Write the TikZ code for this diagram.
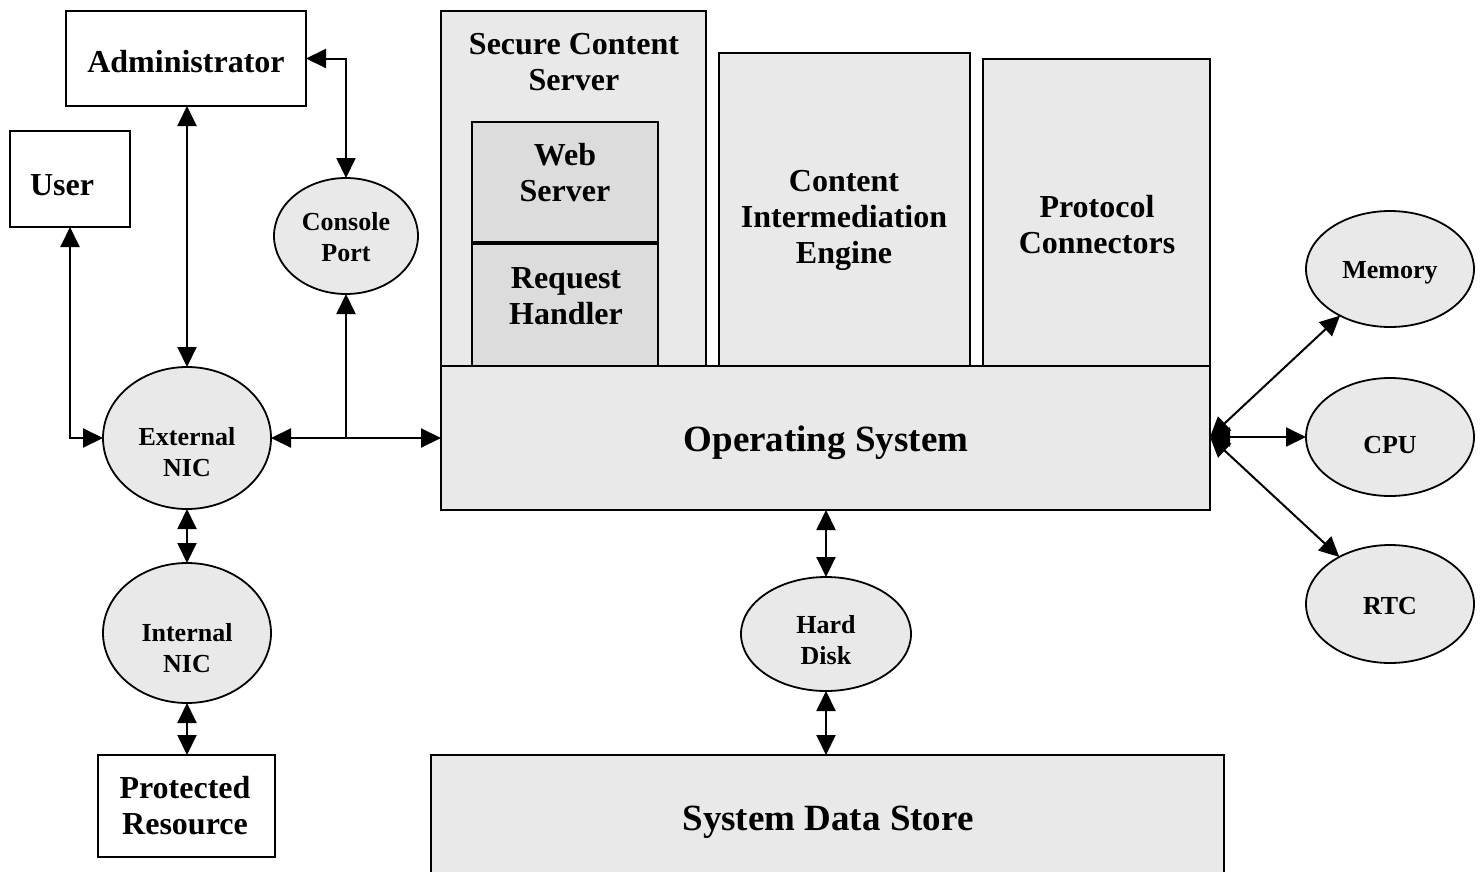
\documentclass[tikz,border=0pt]{standalone}
\usepackage{fontspec}
\setmainfont{Liberation Serif}
\usetikzlibrary{arrows.meta,shapes.geometric}
\definecolor{panel}{HTML}{E9E9E9}
\definecolor{subpanel}{HTML}{DCDCDC}
\begin{document}
\begin{tikzpicture}[x=1pt,y=-1pt,
  box/.style={draw, line width=2pt, inner sep=0pt, outer sep=0pt},
  whitebox/.style={box, fill=white},
  panelbox/.style={box, fill=panel},
  subbox/.style={box, fill=subpanel},
  bubble/.style={draw, ellipse, line width=1.8pt, fill=panel, inner sep=0pt, outer sep=0pt},
  bigtxt/.style={font=\fontsize{32}{36}\selectfont\bfseries, align=center, inner sep=0pt},
  smalltxt/.style={font=\fontsize{26}{31}\selectfont\bfseries, align=center, inner sep=0pt},
  hugetxt/.style={font=\fontsize{37}{44}\selectfont\bfseries, align=center, inner sep=0pt},
  tip/.tip={Triangle[length=20pt,width=19pt]},
  link/.style={line width=2pt, tip-tip},
  oneway/.style={line width=2pt, -tip}]
\useasboundingbox (0,0) rectangle (1480,871);
\clip (0,0) rectangle (1480,871);

% left-hand boxes
\node[whitebox, minimum width=240pt, minimum height=95pt] (admin) at (186,58.5) {};
\node[bigtxt] (adminT) at (186,62) {Administrator};
\node[whitebox, minimum width=120pt, minimum height=96pt] (user) at (70,179) {};
\node[bigtxt] (userT) at (62,185) {User};
\node[whitebox, minimum width=177pt, minimum height=102pt] (prot) at (186.5,806) {};
\node[bigtxt] (protT) at (185,806) {Protected\\Resource};

% server stack
\node[panelbox, minimum width=265pt, minimum height=355pt] (scs) at (573.5,188.5) {};
\node[bigtxt] (scsT) at (574,62) {Secure Content\\Server};
\node[subbox, minimum width=186pt, minimum height=120pt] (web) at (565,182) {};
\node[bigtxt] (webT) at (565,173) {Web\\Server};
\node[subbox, minimum width=186pt, minimum height=122pt] (req) at (565,305) {};
\node[bigtxt] (reqT) at (566,296) {Request\\Handler};
\node[panelbox, minimum width=251pt, minimum height=313pt] (cie) at (844.5,209.5) {};
\node[bigtxt] (cieT) at (844,220) {Content\\Intermediation\\Engine};
\node[panelbox, minimum width=227pt, minimum height=307pt] (pc) at (1096.5,212.5) {};
\node[bigtxt] (pcT) at (1097,225) {Protocol\\Connectors};
\node[panelbox, minimum width=769pt, minimum height=144pt] (os) at (825.5,438) {};
\node[hugetxt] (osT) at (826,443) {Operating System};
\node[panelbox, minimum width=793pt, minimum height=130pt] (sds) at (827.5,820) {};
\node[hugetxt] (sdsT) at (828,822) {System Data Store};

% devices
\node[bubble, minimum width=144pt, minimum height=116pt] (con) at (346,236) {};
\node[smalltxt] (conT) at (346,237) {Console\\Port};
\node[bubble, minimum width=168pt, minimum height=142pt] (ext) at (187,438) {};
\node[smalltxt] (extT) at (187,452) {External\\NIC};
\node[bubble, minimum width=168pt, minimum height=140pt] (int) at (187,633) {};
\node[smalltxt] (intT) at (187,648) {Internal\\NIC};
\node[bubble, minimum width=170pt, minimum height=114pt] (hd) at (826,634) {};
\node[smalltxt] (hdT) at (826,640) {Hard\\Disk};
\node[bubble, minimum width=168pt, minimum height=116pt] (mem) at (1390,269) {};
\node[smalltxt] (memT) at (1390,273) {Memory};
\node[bubble, minimum width=168pt, minimum height=118pt] (cpu) at (1390,437) {};
\node[smalltxt] (cpuT) at (1390,445) {CPU};
\node[bubble, minimum width=168pt, minimum height=118pt] (rtc) at (1390,604) {};
\node[smalltxt] (rtcT) at (1390,606) {RTC};

% connections
\draw[link] (user.south) |- (ext.west);
\draw[link] (admin.south -| ext.north) -- (ext.north);
\draw[link] (admin.east) -| (con.north);
\draw[link] (ext.east) -- (ext.east -| os.west);
\coordinate (fork) at (con.south |- ext.east);
\draw[oneway] (fork) -- (con.south);
\draw[link] (ext.south) -- (int.north);
\draw[link] (int.south) -- (prot.north -| int.south);
\draw[link] (os.south -| hd.north) -- (hd.north);
\draw[link] (hd.south) -- (sds.north -| hd.south);
\coordinate (hub) at (os.east |- cpu.west);
\draw[link] (hub) -- (mem);
\draw[link] (hub) -- (cpu);
\draw[link] (hub) -- (rtc);
\end{tikzpicture}
\end{document}
